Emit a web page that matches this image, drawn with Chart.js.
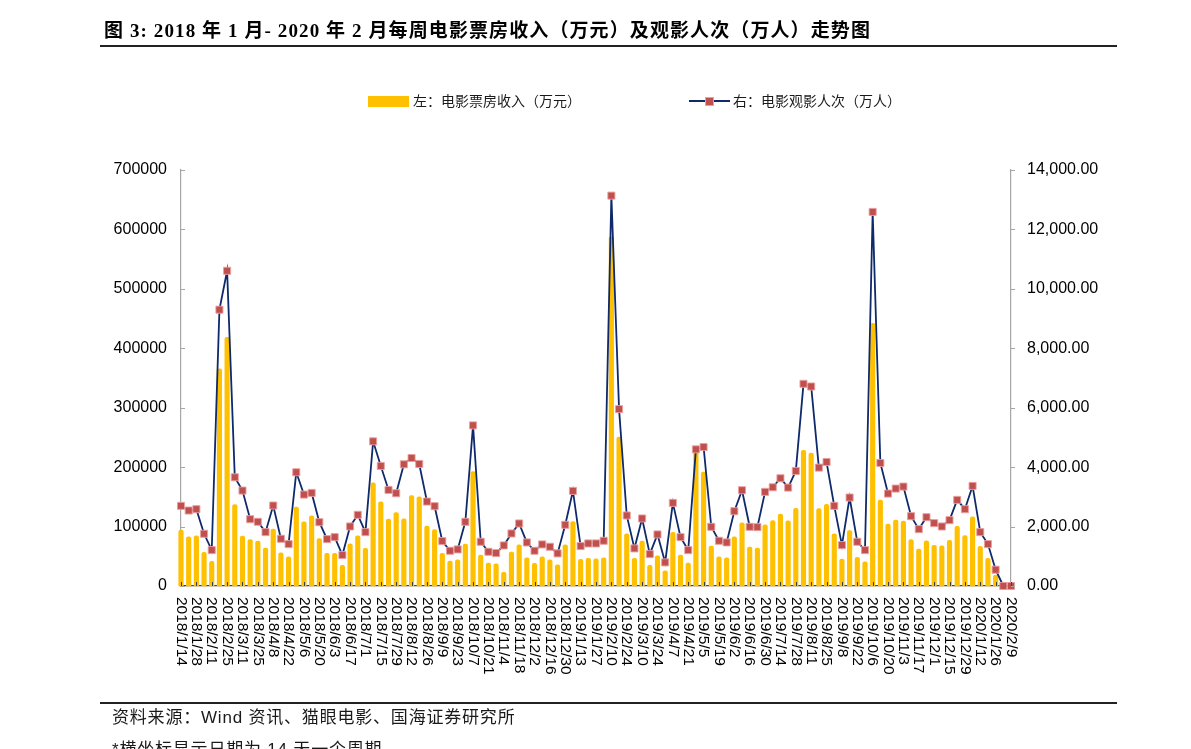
<!DOCTYPE html>
<html>
<head>
<meta charset="utf-8">
<script src="https://cdn.jsdelivr.net/npm/chart.js@4.4.1/dist/chart.umd.min.js"></script>
<style>
html,body{margin:0;padding:0;background:#fff;width:1191px;height:749px;overflow:hidden;}
#wrap{position:relative;width:1191px;height:749px;overflow:hidden;}
#c{position:absolute;left:0;top:0;}
.abs{position:absolute;white-space:nowrap;}
.title{left:104px;top:18px;font-weight:bold;font-size:19px;letter-spacing:1.1px;line-height:26px;font-family:"Liberation Serif","Noto Sans CJK SC",serif;color:#000;}
.rule{background:#222;height:1.5px;left:100px;width:1017px;}
.leg{font-size:14px;line-height:18px;font-family:"Liberation Sans","Noto Sans CJK SC",sans-serif;color:#1a1a1a;top:92px;}
.foot{font-size:17px;letter-spacing:0.8px;line-height:22px;font-family:"Liberation Sans","Noto Sans CJK SC",sans-serif;color:#1a1a1a;left:112px;}
</style>
</head>
<body>
<div id="wrap">
<canvas id="c" width="1191" height="749"></canvas>
<div class="abs title">图 3: 2018 年 1 月- 2020 年 2 月每周电影票房收入（万元）及观影人次（万人）走势图</div>
<div class="abs rule" style="top:45px;"></div>
<div class="abs" style="left:368px;top:96px;width:41px;height:11px;background:#FFC000;"></div>
<div class="abs leg" style="left:413px;">左：电影票房收入（万元）</div>
<div class="abs" style="left:689px;top:100px;width:41px;height:2px;background:#0E2A6B;"></div>
<div class="abs" style="left:705px;top:97px;width:7px;height:7px;background:#C0504D;border:0.5px solid #E8A0A0;"></div>
<div class="abs leg" style="left:733px;">右：电影观影人次（万人）</div>
<div class="abs rule" style="top:702px;"></div>
<div class="abs foot" style="top:707px;">资料来源：Wind 资讯、猫眼电影、国海证券研究所</div>
<div class="abs foot" style="top:739px;">*横坐标显示日期为 14 天一个周期</div>
</div>
<script>
// Weekly categories (week ending dates)
const categories = [
"2018/1/14","2018/1/21","2018/1/28","2018/2/4","2018/2/11","2018/2/18","2018/2/25","2018/3/4","2018/3/11","2018/3/18",
"2018/3/25","2018/4/1","2018/4/8","2018/4/15","2018/4/22","2018/4/29","2018/5/6","2018/5/13","2018/5/20","2018/5/27",
"2018/6/3","2018/6/10","2018/6/17","2018/6/24","2018/7/1","2018/7/8","2018/7/15","2018/7/22","2018/7/29","2018/8/5",
"2018/8/12","2018/8/19","2018/8/26","2018/9/2","2018/9/9","2018/9/16","2018/9/23","2018/9/30","2018/10/7","2018/10/14",
"2018/10/21","2018/10/28","2018/11/4","2018/11/11","2018/11/18","2018/11/25","2018/12/2","2018/12/9","2018/12/16","2018/12/23",
"2018/12/30","2019/1/6","2019/1/13","2019/1/20","2019/1/27","2019/2/3","2019/2/10","2019/2/17","2019/2/24","2019/3/3",
"2019/3/10","2019/3/17","2019/3/24","2019/3/31","2019/4/7","2019/4/14","2019/4/21","2019/4/28","2019/5/5","2019/5/12",
"2019/5/19","2019/5/26","2019/6/2","2019/6/9","2019/6/16","2019/6/23","2019/6/30","2019/7/7","2019/7/14","2019/7/21",
"2019/7/28","2019/8/4","2019/8/11","2019/8/18","2019/8/25","2019/9/1","2019/9/8","2019/9/15","2019/9/22","2019/9/29",
"2019/10/6","2019/10/13","2019/10/20","2019/10/27","2019/11/3","2019/11/10","2019/11/17","2019/11/24","2019/12/1","2019/12/8",
"2019/12/15","2019/12/22","2019/12/29","2020/1/5","2020/1/12","2020/1/19","2020/1/26","2020/2/2","2020/2/9"
];
const labelStep = 2; // every other week is labelled

// Left axis: weekly box office (万元)
const boxOffice = [
94000,82800,84500,56500,41400,365400,418500,137100,83900,78300,
75500,63800,95700,55900,49200,132600,108000,118000,80000,54800,
54800,34700,71000,84500,63200,173500,141600,112500,123700,113000,
152200,150000,100700,95100,54800,42000,44200,70500,192500,52000,
38600,37500,22900,57100,69400,47600,38000,49200,44200,35800,
69400,108500,44800,46400,45900,47600,587500,250700,87800,46400,
75500,34700,50900,25700,90100,52000,38600,227200,191900,67100,
49200,47600,82800,106300,65500,63800,102900,110200,120900,109700,
130900,228300,223800,130400,137600,87800,45300,93400,48100,40800,
442000,144400,104100,110800,109100,78300,62100,76100,68300,67700,
76700,100200,85000,116400,66600,46400,18500,0,0
];

// Right axis: weekly admissions (万人)
const admissions = [
2697,2540,2585,1757,1208,9299,10608,3659,3212,2249,
2160,1813,2708,1589,1410,3827,3077,3133,2148,1578,
1645,1041,2003,2395,1813,4868,4039,3234,3122,4096,
4308,4107,2842,2686,1511,1186,1231,2160,5405,1488,
1152,1108,1365,1768,2104,1466,1186,1399,1320,1097,
2059,3200,1343,1432,1432,1522,13137,5953,2373,1265,
2272,1074,1735,795,2798,1645,1208,4599,4677,1992,
1522,1466,2518,3223,1992,1981,3167,3323,3626,3312,
3872,6804,6714,3984,4174,2697,1376,2977,1488,1208,
12589,4140,3111,3279,3346,2350,1913,2316,2115,2003,
2216,2898,2585,3368,1813,1410,548,0,0
];

const leftTicks = [0,100000,200000,300000,400000,500000,600000,700000];
const rightTicks = [0,2000,4000,6000,8000,10000,12000,14000];

const axisDecor = {
  id: 'axisDecor',
  afterDraw(chart) {
    const ctx = chart.ctx, xs = chart.scales.x, yl = chart.scales.y, yr = chart.scales.y1;
    const a = chart.chartArea;
    ctx.save();
    ctx.strokeStyle = '#a6a6a6'; ctx.lineWidth = 1;
    leftTicks.forEach(v => {
      const py = Math.round(yl.getPixelForValue(v)) + 0.5;
      ctx.beginPath(); ctx.moveTo(a.left, py); ctx.lineTo(a.left + 4, py); ctx.stroke();
    });
    rightTicks.forEach(v => {
      const py = Math.round(yr.getPixelForValue(v)) + 0.5;
      ctx.beginPath(); ctx.moveTo(a.right, py); ctx.lineTo(a.right + 4, py); ctx.stroke();
    });
    ctx.strokeStyle = '#404040';
    ctx.fillStyle = '#000';
    ctx.font = '15.5px "Liberation Sans", Arial, sans-serif';
    ctx.textAlign = 'left';
    ctx.textBaseline = 'middle';
    for (let i = 0; i < categories.length; i += labelStep) {
      const px = xs.getPixelForValue(i);
      const rx = Math.round(px) + 0.5;
      ctx.beginPath(); ctx.moveTo(rx, a.bottom); ctx.lineTo(rx, a.bottom - 4); ctx.stroke();
      ctx.save();
      ctx.translate(px, a.bottom + 11);
      ctx.rotate(Math.PI / 2);
      ctx.fillText(categories[i], 0, 0);
      ctx.restore();
    }
    ctx.restore();
  }
};

new Chart(document.getElementById('c'), {
  type: 'bar',
  data: {
    labels: categories,
    datasets: [
      {
        type: 'line',
        label: '右：电影观影人次（万人）',
        data: admissions,
        yAxisID: 'y1',
        borderColor: '#0E2A6B',
        borderWidth: 1.8,
        tension: 0,
        pointStyle: 'rect',
        pointRadius: 5,
        pointBackgroundColor: '#C0504D',
        pointBorderColor: 'rgba(235,160,160,0.9)',
        pointBorderWidth: 1,
        clip: false,
        order: 0
      },
      {
        type: 'bar',
        label: '左：电影票房收入（万元）',
        data: boxOffice,
        yAxisID: 'y',
        backgroundColor: '#FFC000',
        barThickness: 4.5,
        borderRadius: 2,
        clip: false,
        order: 1
      }
    ]
  },
  options: {
    responsive: false,
    animation: false,
    events: [],
    layout: { padding: { top: 170, left: 0, right: 0, bottom: 0 } },
    plugins: { legend: { display: false }, tooltip: { enabled: false } },
    scales: {
      x: {
        type: 'category',
        offset: false,
        grid: { display: false, drawTicks: false },
        border: { display: true, color: '#404040', width: 1.2 },
        ticks: { display: false },
        afterFit: s => { s.height = 163; }
      },
      y: {
        position: 'left',
        min: 0, max: 700000,
        grid: { display: false, drawTicks: false },
        border: { display: true, color: '#a6a6a6', width: 1.2 },
        ticks: {
          stepSize: 100000, padding: 14, color: '#000',
          font: { family: '"Liberation Sans", Arial, sans-serif', size: 16 },
          callback: v => String(v)
        },
        afterFit: s => { s.width = 181; }
      },
      y1: {
        position: 'right',
        min: 0, max: 14000,
        grid: { display: false, drawTicks: false },
        border: { display: true, color: '#a6a6a6', width: 1.2 },
        ticks: {
          stepSize: 2000, padding: 16, color: '#000',
          font: { family: '"Liberation Sans", Arial, sans-serif', size: 16 },
          callback: v => Number(v).toLocaleString('en-US', { minimumFractionDigits: 2, maximumFractionDigits: 2 })
        },
        afterFit: s => { s.width = 180; }
      }
    }
  },
  plugins: [axisDecor]
});
</script>
</body>
</html>
